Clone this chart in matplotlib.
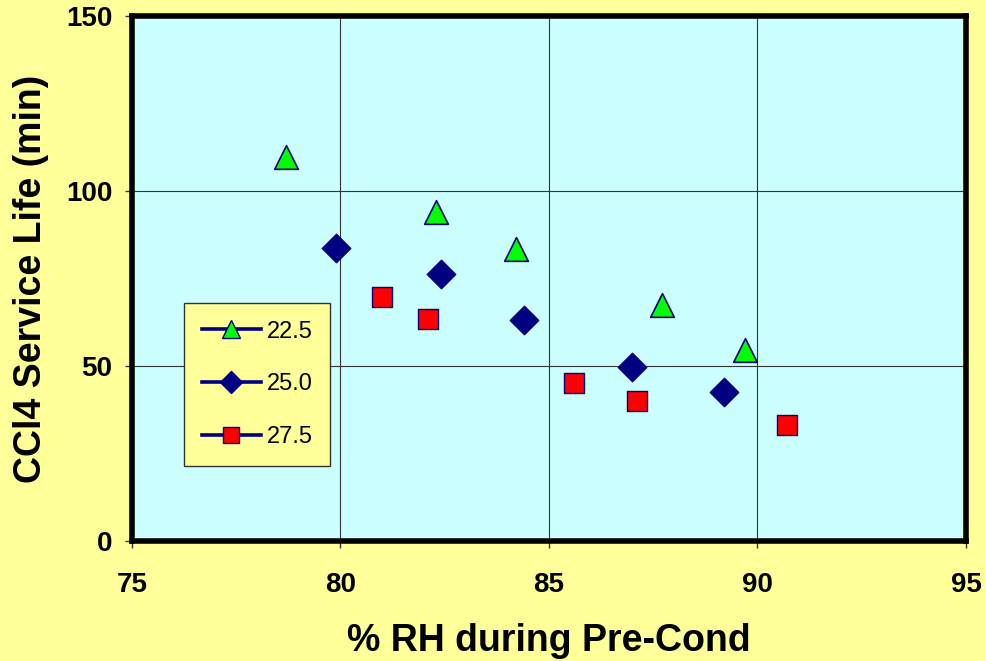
import numpy as np
import matplotlib
matplotlib.use("Agg")
import matplotlib.pyplot as plt
from matplotlib.lines import Line2D

plt.rcParams['font.family'] = ['Liberation Sans', 'DejaVu Sans']

# --- data ---
rh_225 = [78.7, 82.3, 84.2, 87.7, 89.7]
life_225 = [109.7, 94.0, 83.4, 67.4, 54.6]

rh_250 = [79.9, 82.4, 84.4, 87.0, 89.2]
life_250 = [83.7, 76.3, 63.1, 49.7, 42.6]

rh_275 = [81.0, 82.1, 85.6, 87.1, 90.7]
life_275 = [69.7, 63.4, 45.1, 40.0, 33.1]

series_labels = ['22.5', '25.0', '27.5']

navy = '#000080'

fig = plt.figure(figsize=(9.87, 6.61), dpi=100, facecolor='#FFFF99')
ax = fig.add_axes([0.1337, 0.1815, 0.845, 0.7943])
ax.set_facecolor('#CCFFFF')

ax.scatter(rh_225, life_225, marker='^', s=290, c='#00FF00', edgecolors=navy, linewidths=1.2, zorder=3)
ax.scatter(rh_250, life_250, marker='D', s=210, c=navy, edgecolors=navy, linewidths=1.0, zorder=3)
ax.scatter(rh_275, life_275, marker='s', s=200, c='#FF0000', edgecolors=navy, linewidths=1.0, zorder=3)

ax.set_xlim(75, 95)
ax.set_ylim(0, 150)
ax.set_xticks([75, 80, 85, 90, 95])
ax.set_yticks([0, 50, 100, 150])
ax.grid(True, color='#333333', linewidth=0.8)
ax.set_axisbelow(True)

for sp in ax.spines.values():
    sp.set_linewidth(4)
    sp.set_color('black')

ax.tick_params(direction='out', length=5, width=1, color='#333333', labelsize=20)
ax.tick_params(axis='x', pad=17)
ax.tick_params(axis='y', pad=9)
for lab in ax.get_xticklabels() + ax.get_yticklabels():
    lab.set_fontweight('bold')

ax.set_xlabel('% RH during Pre-Cond', fontsize=27, fontweight='bold', labelpad=18)
ax.set_ylabel('CCl4 Service Life (min)', fontsize=27, fontweight='bold', labelpad=12)

# legend: line + marker like the original spreadsheet chart
handles = [
    Line2D([], [], color=navy, lw=2.6, marker='^', ms=13, mfc='#00FF00', mec=navy),
    Line2D([], [], color=navy, lw=2.6, marker='D', ms=11, mfc=navy, mec=navy),
    Line2D([], [], color=navy, lw=2.6, marker='s', ms=12, mfc='#FF0000', mec=navy),
]
leg = ax.legend(handles, series_labels, loc='upper left', bbox_to_anchor=(0.0624, 0.4533),
                borderaxespad=0, fontsize=17, frameon=True, fancybox=False, handlelength=2.5,
                labelspacing=1.3, borderpad=0.75, handletextpad=0.25)
leg.get_frame().set_facecolor('#FFFF99')
leg.get_frame().set_edgecolor('#333333')
leg.get_frame().set_linewidth(1)
leg.get_frame().set_alpha(1)

fig.savefig('out.png', dpi=100, facecolor=fig.get_facecolor())
